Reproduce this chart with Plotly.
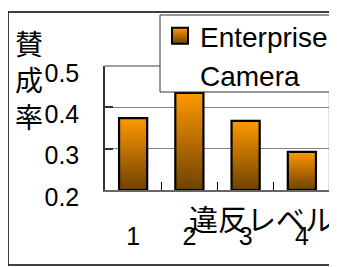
import plotly.graph_objects as go

# ---- data ----
categories = ["1", "2", "3", "4"]
enterprise = [0.374, 0.435, 0.367, 0.292]
camera_name = "Camera"
series_name = "Enterprise"
y_ticks = [0.2, 0.3, 0.4, 0.5]
y_tick_labels = ["0.2", "0.3", "0.4", "0.5"]
y_title = "賛<br>成<br>率"
x_title = "違反レベル"
y_min, y_max = 0.2, 0.5

# page has an 8px body margin: work in reference pixels, shift by OFF
OFF = 8
W, H = 337, 267
PL, PR, PT, PB = 105, 330, 66, 190  # plot area in reference pixels
L = PL - OFF
T = PT - OFF
R = W - (PR - OFF)
B = H - (PB - OFF)
pw, ph = PR - PL, PB - PT

def px_x(p):
    return (p - PL) / pw

def px_y(p):
    return (PB - p) / ph

FONT = "Liberation Sans, Arial, sans-serif"
JFONT = "Liberation Sans, Noto Sans CJK JP, sans-serif"
top_rgb = (255, 153, 0)
bot_rgb = (110, 66, 0)

fig = go.Figure()

# gradient fill built from stacked overlay layers of each bar
N = 30
for k in range(N):
    f0 = 1 - k / N
    f1 = 1 - (k + 1) / N
    p = (f0 + f1) / 2
    c = tuple(int(round(b + (t - b) * p)) for t, b in zip(top_rgb, bot_rgb))
    fig.add_trace(go.Bar(
        x=categories,
        y=[(v - y_min) * f0 for v in enterprise],
        base=y_min,
        width=0.5,
        marker=dict(color="rgb(%d,%d,%d)" % c, line=dict(width=0)),
        showlegend=False,
        hoverinfo="skip",
    ))

# outline
fig.add_trace(go.Bar(
    x=categories,
    y=[v - y_min for v in enterprise],
    base=y_min,
    width=0.5,
    marker=dict(color="rgba(0,0,0,0)", line=dict(color="black", width=2.2)),
    showlegend=False,
))

# legend entries
fig.add_trace(go.Scatter(
    x=[None], y=[None], mode="markers", name=series_name,
    marker=dict(symbol="square", size=16, color="rgb(255,153,0)",
                gradient=dict(type="vertical", color="rgb(110,66,0)"),
                line=dict(color="black", width=2)),
))
fig.add_trace(go.Scatter(
    x=[None], y=[None], mode="markers", name=camera_name,
    marker=dict(symbol="square", size=16, color="rgba(0,0,0,0)",
                line=dict(width=0)),
))

fig.update_layout(
    width=W, height=H,
    margin=dict(l=L, r=R, t=T, b=B, pad=0, autoexpand=False),
    barmode="overlay",
    paper_bgcolor="white",
    plot_bgcolor="white",
    font=dict(family=FONT, color="black", size=25),
    showlegend=True,
    legend=dict(
        x=px_x(160), y=px_y(11), xanchor="left", yanchor="top",
        bgcolor="rgba(0,0,0,0)", borderwidth=0,
        font=dict(size=28, family=FONT),
        itemclick=False,
    ),
    xaxis=dict(
        type="category",
        showgrid=False,
        showline=True, linecolor="#666666", linewidth=2,
        ticks="inside", tickson="boundaries", ticklen=8, tickcolor="black",
        tickwidth=1,
        tickfont=dict(size=25, family="Arial", color="black"),
        ticklabelstandoff=23,
        mirror=False,
        fixedrange=True,
    ),
    yaxis=dict(
        range=[y_min, y_max],
        tickvals=y_ticks, ticktext=y_tick_labels,
        showgrid=True, gridcolor="#808080", gridwidth=1,
        showline=True, linecolor="#333333", linewidth=1.5,
        ticks="inside", ticklen=8, tickcolor="#333333", tickwidth=1.5,
        tickfont=dict(size=25, family=FONT, color="black"),
        ticklabelstandoff=19,
        ticklabelshift=7,
        zeroline=False,
        fixedrange=True,
    ),
    shapes=[
        dict(type="line", xref="paper", yref="paper", x0=1, x1=1, y0=0, y1=1,
             line=dict(color="#808080", width=2.5)),
        dict(type="line", xref="paper", yref="paper", x0=0, x1=1, y0=1, y1=1,
             line=dict(color="#808080", width=1.5)),
        # outer chart border
        dict(type="rect", xref="paper", yref="paper",
             x0=px_x(8), x1=px_x(360), y0=px_y(265), y1=px_y(12),
             line=dict(color="black", width=1.5), layer="below"),
        # legend box
        dict(type="rect", xref="paper", yref="paper",
             x0=px_x(160), x1=px_x(360), y0=px_y(92), y1=px_y(15),
             fillcolor="white", line=dict(color="#333333", width=1),
             layer="above"),
    ],
    annotations=[
        dict(text=y_title, xref="paper", yref="paper",
             x=px_x(29), y=px_y(82), xanchor="center", yanchor="middle",
             showarrow=False, font=dict(size=28, family=JFONT),
             align="center"),
        dict(text=x_title, xref="paper", yref="paper",
             x=px_x(261), y=px_y(221), xanchor="center", yanchor="middle",
             showarrow=False, font=dict(size=29, family=JFONT)),
    ],
)

fig.write_html("out.html", config={"displayModeBar": False})
